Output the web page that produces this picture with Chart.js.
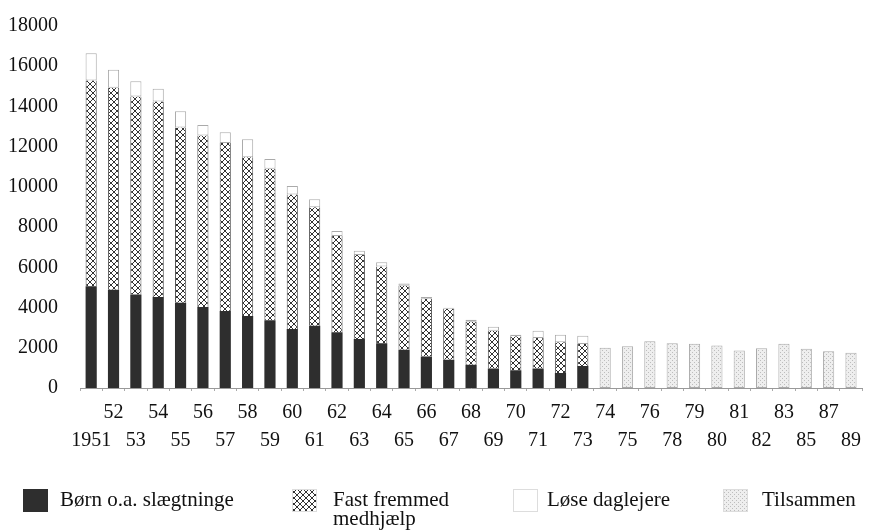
<!DOCTYPE html>
<html>
<head>
<meta charset="utf-8">
<script src="https://cdn.jsdelivr.net/npm/chart.js@4"></script>
<style>
html,body{margin:0;padding:0;background:#fff;}
#wrap{width:869px;height:532px;position:relative;}
</style>
</head>
<body>
<div id="wrap"><canvas id="c" width="869" height="532"></canvas></div>
<script>
const years=['1951','52','53','54','55','56','57','58','59','60','61','62','63','64','65','66','67','68','69','70','71','72','73','74','75','76','78','79','80','81','82','83','85','87','89'];
const born=[5060,4880,4650,4530,4240,4030,3830,3580,3370,2930,3090,2770,2440,2230,1900,1570,1410,1160,970,880,970,750,1100,null,null,null,null,null,null,null,null,null,null,null,null];
const fast=[10230,10050,9850,9720,8710,8520,8350,7890,7530,6690,5900,4790,4170,3810,3190,2870,2530,2130,1880,1690,1520,1520,1090,null,null,null,null,null,null,null,null,null,null,null,null];
const lose=[1360,900,750,630,810,530,540,900,490,430,400,250,220,210,110,80,50,100,190,80,360,380,410,null,null,null,null,null,null,null,null,null,null,null,null];
const tilsammen=[null,null,null,null,null,null,null,null,null,null,null,null,null,null,null,null,null,null,null,null,null,null,null,2000,2080,2320,2220,2200,2110,1870,1980,2200,1950,1830,1750];
const yTicks=[0,2000,4000,6000,8000,10000,12000,14000,16000,18000];
const legendItems=[
  {text:['Børn o.a. slægtninge'],x:23,tx:60,kind:'dark'},
  {text:['Fast fremmed','medhjælp'],x:292,tx:333,kind:'hatch'},
  {text:['Løse daglejere'],x:513,tx:547,kind:'white'},
  {text:['Tilsammen'],x:723,tx:762,kind:'dots'}
];

const FONT='"Liberation Serif","DejaVu Serif",serif';

function hatchPattern(){
  const c=document.createElement('canvas');c.width=6;c.height=6;
  const g=c.getContext('2d');
  g.fillStyle='#fff';g.fillRect(0,0,6,6);
  g.strokeStyle='#333';g.lineWidth=1;
  g.beginPath();g.moveTo(0,0);g.lineTo(6,6);g.moveTo(6,0);g.lineTo(0,6);g.stroke();
  return g.createPattern(c,'repeat');
}
function dotPattern(){
  const c=document.createElement('canvas');c.width=4;c.height=4;
  const g=c.getContext('2d');
  g.fillStyle='#eeeeee';g.fillRect(0,0,4,4);
  g.fillStyle='#bdbdbd';g.fillRect(0,0,1,1);g.fillRect(2,2,1,1);
  return g.createPattern(c,'repeat');
}
const HATCH=hatchPattern(), DOTS=dotPattern();

const styles={
  dark:{bg:'#2e2e2e',border:'#2e2e2e'},
  hatch:{bg:HATCH,border:'#555'},
  white:{bg:'#fff',border:'#aaa'},
  dots:{bg:DOTS,border:'#aaa'}
};

const xLabels=years.map((y,i)=>i%2===0?['',y]:[y,'']);

const legendPlugin={
  id:'bottomLegend',
  afterDraw(chart){
    const ctx=chart.ctx;
    ctx.save();
    legendItems.forEach(it=>{
      const s=styles[it.kind];
      ctx.fillStyle=s.bg;ctx.fillRect(it.x,489,25,23);
      if(it.kind!=='dark'){ctx.strokeStyle='#ddd';ctx.lineWidth=1;ctx.strokeRect(it.x+0.5,489.5,24,22);}
      ctx.fillStyle='#111';ctx.font='21px '+FONT;ctx.textBaseline='middle';ctx.textAlign='left';
      it.text.forEach((t,k)=>ctx.fillText(t,it.tx,500+k*19));
    });
    ctx.restore();
  }
};

new Chart(document.getElementById('c'),{
  type:'bar',
  data:{labels:xLabels,datasets:[
    {label:'Børn o.a. slægtninge',data:born,backgroundColor:styles.dark.bg,borderColor:styles.dark.border,borderWidth:0},
    {label:'Fast fremmed medhjælp',data:fast,backgroundColor:styles.hatch.bg,borderColor:styles.hatch.border,borderWidth:{left:1,right:1,top:0,bottom:0}},
    {label:'Løse daglejere',data:lose,backgroundColor:styles.white.bg,borderColor:styles.white.border,borderWidth:1},
    {label:'Tilsammen',data:tilsammen,backgroundColor:styles.dots.bg,borderColor:styles.dots.border,borderWidth:1}
  ]},
  options:{
    responsive:false,animation:false,
    layout:{padding:{top:10,right:1,left:0,bottom:74}},
    datasets:{bar:{barPercentage:0.5,categoryPercentage:1,borderSkipped:false}},
    plugins:{legend:{display:false},tooltip:{enabled:false}},
    scales:{
      x:{stacked:true,
        grid:{display:true,drawOnChartArea:false,tickLength:3,color:'#aaa'},
        border:{display:true,color:'#999'},
        ticks:{autoSkip:false,maxRotation:0,padding:8,color:'#111',font:{family:FONT,size:20,lineHeight:1.4}},
        afterFit(s){s.height=70;}
      },
      y:{stacked:true,min:0,max:18000,
        afterBuildTicks(s){s.ticks=yTicks.map(v=>({value:v}));},
        grid:{display:false},border:{display:false},
        ticks:{padding:14,color:'#111',font:{family:FONT,size:20},callback:v=>String(v)},
        afterFit(s){s.width=80;}
      }
    }
  },
  plugins:[legendPlugin]
});
</script>
</body>
</html>
